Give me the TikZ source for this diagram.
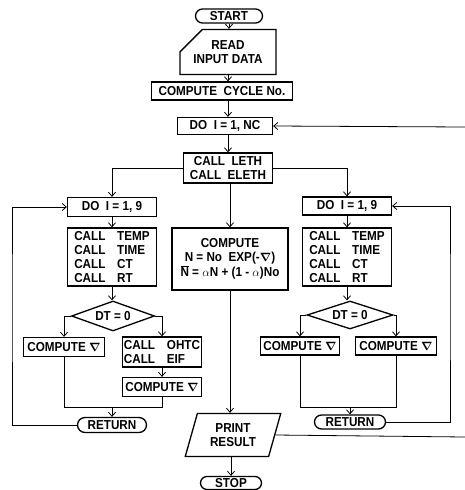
\documentclass[tikz,border=0pt]{standalone}
\usepackage{amsmath}
\usepackage{bm}
\usepackage{fontspec}
\newfontfamily\flowfont[FakeStretch=0.9]{Liberation Sans}
\usepackage{tikz}
\usetikzlibrary{arrows.meta}
\usetikzlibrary{shapes.geometric}
\usetikzlibrary{shapes.misc}

\newcommand{\callw}[1]{\makebox[43pt][l]{CALL}#1}

\begin{document}
\begin{tikzpicture}[
    x=1pt, y=-1pt,
    box/.style={draw, line width=1.3pt, inner sep=1pt, align=center, font=\flowfont\bfseries\fontsize{13}{14}\selectfont},
    term/.style={box, rounded rectangle},
    decision/.style={box, diamond, aspect=2.8, inner sep=0pt},
    inout/.style={box, trapezium, trapezium left angle=72, trapezium right angle=108, trapezium stretches=true},
    manual/.style={box, chamfered rectangle, chamfered rectangle corners=north west, chamfered rectangle xsep=17pt, chamfered rectangle ysep=10pt},
    arrow/.style={->, line width=0.8pt, >={Straight Barb[length=4pt,width=7pt]}},
    line/.style={line width=0.8pt}
]
  \useasboundingbox (0,0) rectangle (465,490);

  % Main column (top)
  \node[term, minimum width=69pt, minimum height=14pt] (start) at (229,16) {START};
  \node[manual, minimum width=90pt, minimum height=30pt] (read) at (228,52) {READ\\INPUT DATA};
  \node[box, minimum width=141pt, minimum height=18pt] (cycle) at (222,91) {COMPUTE\ \ CYCLE No.};
  \node[box, minimum width=95pt, minimum height=17pt] (donc) at (225,126) {DO\ \ I = 1, NC};
  \node[box, minimum width=89pt, minimum height=30pt] (leth) at (228,168) {CALL\ \ LETH\\CALL\ \ ELETH};

  % Left loop
  \node[box, minimum width=89pt, minimum height=19pt] (doL) at (112,207) {DO\ \ I = 1, 9};
  \node[box, minimum width=89pt, minimum height=58pt, align=left] (callL) at (112,257) {\callw{TEMP}\\\callw{TIME}\\\callw{CT}\\\callw{RT}};
  \node[decision, minimum width=83pt, minimum height=30pt] (dtL) at (113,316) {DT = 0};
  \node[box, minimum width=81pt, minimum height=19pt] (compL) at (64,347) {COMPUTE $\bm{\nabla}$};
  \node[box, minimum width=79pt, minimum height=30pt, align=left] (ohtc) at (162,352) {\callw{OHTC}\\\callw{EIF}};
  \node[box, minimum width=79pt, minimum height=19pt] (compL2) at (162,387) {COMPUTE $\bm{\nabla}$};
  \node[term, minimum width=71pt, minimum height=15pt] (retL) at (112,425) {RETURN};

  % Middle
  \node[box, minimum width=116pt, minimum height=62pt] (compN) at (230,259) {COMPUTE\\N = No\ \ EXP(-$\bm{\nabla}$)\\$\overline{\hbox{N}}$ = $\alpha$N + (1 - $\alpha$)No};
  \node[inout, minimum width=96pt, minimum height=43pt] (print) at (233,435) {PRINT\\RESULT};
  \node[term, minimum width=63pt, minimum height=13pt] (stop) at (231,483) {STOP};

  % Right loop
  \node[box, minimum width=89pt, minimum height=18pt] (doR) at (347,206) {DO\ \ I = 1, 9};
  \node[box, minimum width=89pt, minimum height=58pt, align=left] (callR) at (347,257) {\callw{TEMP}\\\callw{TIME}\\\callw{CT}\\\callw{RT}};
  \node[decision, minimum width=86pt, minimum height=28pt] (dtR) at (350,315) {DT = 0};
  \node[box, minimum width=79pt, minimum height=18pt] (compR1) at (300,346) {COMPUTE $\bm{\nabla}$};
  \node[box, minimum width=81pt, minimum height=18pt] (compR2) at (396,346) {COMPUTE $\bm{\nabla}$};
  \node[term, minimum width=73pt, minimum height=14pt] (retR) at (350,422) {RETURN};

  % Bends and free ends
  \coordinate (joinL) at (112,407);
  \coordinate (joinR) at (350,407);
  \coordinate (loopL) at (12,300);
  \coordinate (loopR) at (450,300);
  \coordinate (feedIn) at (465,127);
  \coordinate (feedOut) at (465,437);

  % Arrows: main column
  \draw[arrow] (start.south) -- (start.south |- read.north);
  \draw[arrow] (read.south) -- (read.south |- cycle.north);
  \draw[arrow] (read.south |- cycle.south) -- (read.south |- donc.north);
  \draw[arrow] (leth.north |- donc.south) -- (leth.north);
  \draw[arrow] (feedIn) -- (donc.east);

  % Arrows: branches
  \draw[arrow] (leth.west) -| (doL.north);
  \draw[arrow] (leth.east) -| (doR.north);
  \draw[arrow] (compN.north |- leth.south) -- (compN.north);

  % Left loop
  \draw[arrow] (doL) -- (callL);
  \draw[arrow] (callL.south) -- (callL.south |- dtL.north);
  \draw[arrow] (dtL.west) -| (compL.north);
  \draw[arrow] (dtL.east) -| (ohtc.north);
  \draw[arrow] (ohtc) -- (compL2);
  \draw[line] (compL.south) |- (joinL);
  \draw[line] (compL2.south) |- (joinL);
  \draw[arrow] (joinL) -- (retL.north);
  \draw[arrow] (retL.west) -| (loopL) |- (doL.west);

  % Right loop
  \draw[arrow] (doR) -- (callR);
  \draw[arrow] (callR.south) -- (callR.south |- dtR.north);
  \draw[arrow] (dtR.west) -| (compR1.north);
  \draw[arrow] (dtR.east) -| (compR2.north);
  \draw[line] (compR1.south) |- (joinR);
  \draw[line] (compR2.south) |- (joinR);
  \draw[arrow] (joinR) -- (retR.north);
  \draw[arrow] (retR.east) -| (loopR) |- (doR.east);

  % Result and stop
  \draw[arrow] (compN.south) -- (compN.south |- print.north);
  \draw[arrow] (stop.north |- print.south) -- (stop.north);
  \draw[line] (print.east) -- (feedOut);

\end{tikzpicture}
\end{document}
